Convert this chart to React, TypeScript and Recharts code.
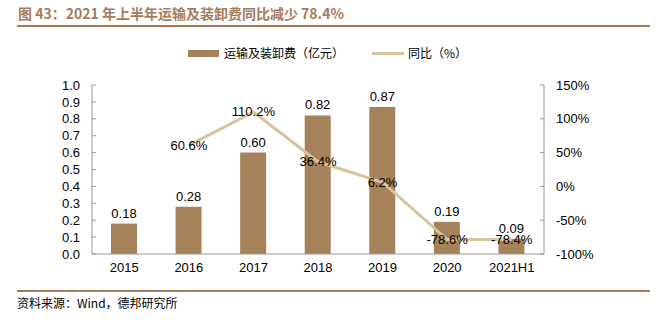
import React from 'react';
import { ComposedChart, Bar, Line, XAxis, YAxis, LabelList } from 'recharts';

const categories = ['2015', '2016', '2017', '2018', '2019', '2020', '2021H1'];
const costValues = [0.18, 0.28, 0.6, 0.82, 0.87, 0.19, 0.09];
const yoyValues: (number | null)[] = [null, 60.6, 110.2, 36.4, 6.2, -78.6, -78.4];
const leftTicks = [0, 0.1, 0.2, 0.3, 0.4, 0.5, 0.6, 0.7, 0.8, 0.9, 1.0];
const rightTicks = [-100, -50, 0, 50, 100, 150];
const dividerTicks = [1, 2, 3, 4, 5, 6];

const data = categories.map((c, i) => ({ cat: c, cost: costValues[i], yoy: yoyValues[i] }));

const BAR = '#A6825A';
const LINE = '#D8C49A';
const BROWN = '#A47C5C';
const AXIS = '#999999';
const FONT = '"Liberation Sans", Arial, "Noto Sans CJK SC", sans-serif';
const CJK = '"Noto Sans CJK SC", "Liberation Sans", sans-serif';

const LineLabel = (props: any) => {
  const { x, y, value } = props;
  if (value === null || value === undefined) return null;
  return (
    <text x={x} y={y} dy="0.35em" textAnchor="middle" fontSize={13} fill="#000" fontFamily={FONT}>
      {value.toFixed(1)}%
    </text>
  );
};

export default function App() {
  return (
    <div style={{ position: 'absolute', left: 0, top: 0, width: 656, height: 323, background: '#fff', fontFamily: FONT }}>
      <div style={{ position: 'absolute', left: 18, top: 4, fontSize: 14, fontWeight: 'bold', color: BROWN, fontFamily: CJK, whiteSpace: 'nowrap', lineHeight: '18px' }}>
        图 43：2021 年上半年运输及装卸费同比减少 78.4%
      </div>
      <div style={{ position: 'absolute', left: 17, top: 25, width: 633, height: 2, background: BROWN }} />
      <div style={{ position: 'absolute', left: 188, top: 45, display: 'flex', alignItems: 'center', fontSize: 12, fontFamily: CJK, color: '#000', whiteSpace: 'nowrap', lineHeight: '16px' }}>
        <span style={{ display: 'inline-block', width: 31, height: 7, background: BAR, marginRight: 5 }} />
        <span>运输及装卸费（亿元）</span>
        <span style={{ display: 'inline-block', width: 32, height: 3, background: LINE, marginLeft: 28, marginRight: 4 }} />
        <span>同比（%）</span>
      </div>
      <div style={{ position: 'absolute', left: 0, top: 0 }}>
        <ComposedChart width={656} height={323} data={data} margin={{ top: 85, right: 0, bottom: 44, left: 0 }} barCategoryGap={0}>
          <XAxis
            xAxisId="div"
            type="number"
            domain={[0, 7]}
            ticks={dividerTicks}
            height={0}
            axisLine={false}
            tick={() => <g />}
            tickLine={{ stroke: AXIS }}
            tickSize={-5}
          />
          <XAxis
            dataKey="cat"
            height={25}
            axisLine={{ stroke: AXIS }}
            tickLine={false}
            tickSize={0}
            tickMargin={9}
            tick={{ fontSize: 13, fill: '#000', fontFamily: FONT }}
            interval={0}
          />
          <YAxis
            yAxisId="left"
            orientation="left"
            width={92}
            domain={[0, 1]}
            ticks={leftTicks}
            interval={0}
            tickFormatter={(v: number) => v.toFixed(1)}
            axisLine={{ stroke: AXIS }}
            tickLine={{ stroke: AXIS }}
            tickSize={-4}
            tickMargin={16}
            tick={{ fontSize: 13, fill: '#000', fontFamily: FONT }}
          />
          <YAxis
            yAxisId="right"
            orientation="right"
            width={112}
            domain={[-100, 150]}
            ticks={rightTicks}
            interval={0}
            tickFormatter={(v: number) => `${v}%`}
            axisLine={{ stroke: AXIS }}
            tickLine={{ stroke: AXIS }}
            tickSize={-4}
            tickMargin={16}
            tick={{ fontSize: 13, fill: '#000', fontFamily: FONT, textAnchor: 'start' }}
          />
          <Bar yAxisId="left" dataKey="cost" fill={BAR} barSize={26} isAnimationActive={false}>
            <LabelList dataKey="cost" position="top" offset={6} fontSize={13} fill="#000" fontFamily={FONT} formatter={(v: any) => Number(v).toFixed(2)} />
          </Bar>
          <Line yAxisId="right" dataKey="yoy" stroke={LINE} strokeWidth={3} dot={false} isAnimationActive={false}>
            <LabelList dataKey="yoy" content={LineLabel} />
          </Line>
        </ComposedChart>
      </div>
      <div style={{ position: 'absolute', left: 17, top: 290, width: 633, height: 2, background: BROWN }} />
      <div style={{ position: 'absolute', left: 17, top: 295, fontSize: 12, fontFamily: CJK, color: '#000', whiteSpace: 'nowrap', lineHeight: '16px' }}>
        资料来源：Wind，德邦研究所
      </div>
    </div>
  );
}
